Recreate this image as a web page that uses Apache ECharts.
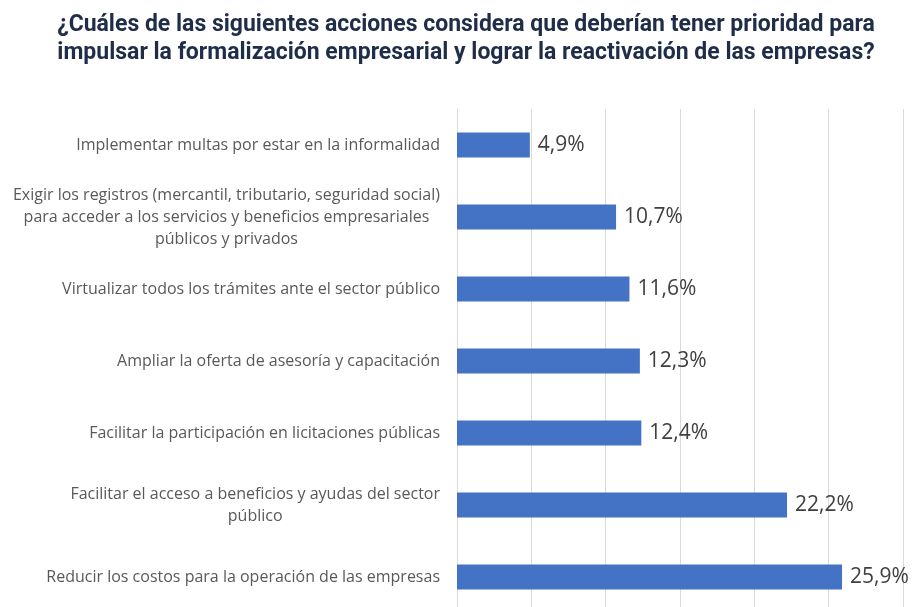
<!DOCTYPE html>
<html>
<head>
<meta charset="utf-8">
<script src="https://cdn.jsdelivr.net/npm/echarts@6/dist/echarts.min.js"></script>
<style>
  html, body { margin: 0; padding: 0; background: #fff; }
  #chart { width: 913px; height: 607px; }
</style>
</head>
<body>
<div id="chart"></div>
<script>
// categorías (de arriba a abajo)
const categories = [
  'Implementar multas por estar en la informalidad',
  'Exigir los registros (mercantil, tributario, seguridad social)\npara acceder a los servicios y beneficios empresariales\npúblicos y privados',
  'Virtualizar todos los trámites ante el sector público',
  'Ampliar la oferta de asesoría y capacitación',
  'Facilitar la participación en licitaciones públicas',
  'Facilitar el acceso a beneficios y ayudas del sector\npúblico',
  'Reducir los costos para la operación de las empresas'
];
// porcentajes
const values = [4.9, 10.7, 11.6, 12.3, 12.4, 22.2, 25.9];

const titleText = '¿Cuáles de las siguientes acciones considera que deberían tener prioridad para\nimpulsar la formalización empresarial y lograr la reactivación de las empresas?';

const chart = echarts.init(document.getElementById('chart'));

const option = {
  animation: false,
  title: {
    text: titleText,
    left: 461,
    top: 6,
    textAlign: 'center',
    textStyle: {
      fontFamily: 'Roboto',
      fontWeight: 'bold',
      fontSize: 23,
      lineHeight: 28,
      color: '#1f2d48'
    }
  },
  grid: {
    left: 457,
    right: 10,
    top: 109,
    bottom: -6,
    outerBoundsMode: 'none'
  },
  xAxis: {
    type: 'value',
    min: 0,
    max: 30,
    interval: 5,
    axisLabel: { show: false },
    axisLine: { show: false },
    axisTick: { show: false },
    splitLine: { lineStyle: { color: '#d9d9d9', width: 1 } }
  },
  yAxis: {
    type: 'category',
    inverse: true,
    data: categories,
    axisLine: { show: true, lineStyle: { color: '#d9d9d9' } },
    axisTick: { show: false },
    axisLabel: {
      margin: 17,
      align: 'right',
      fontFamily: 'Open Sans',
      fontSize: 16,
      lineHeight: 22,
      color: '#595959',
      // cada línea centrada dentro del bloque
      formatter: (v) => v.split('\n').map(l => '{c|' + l + '}').join('\n'),
      rich: {
        c: {
          align: 'center',
          fontFamily: 'Open Sans',
          fontSize: 16,
          lineHeight: 22,
          color: '#595959'
        }
      }
    }
  },
  series: [
    {
      type: 'bar',
      data: values,
      barWidth: 25,
      itemStyle: { color: '#4472c4' },
      label: {
        show: true,
        position: 'right',
        distance: 8,
        fontFamily: 'Open Sans',
        fontSize: 21,
        color: '#404040',
        formatter: (p) => p.value.toFixed(1).replace('.', ',') + '%'
      }
    }
  ]
};

chart.setOption(option);
</script>
</body>
</html>
